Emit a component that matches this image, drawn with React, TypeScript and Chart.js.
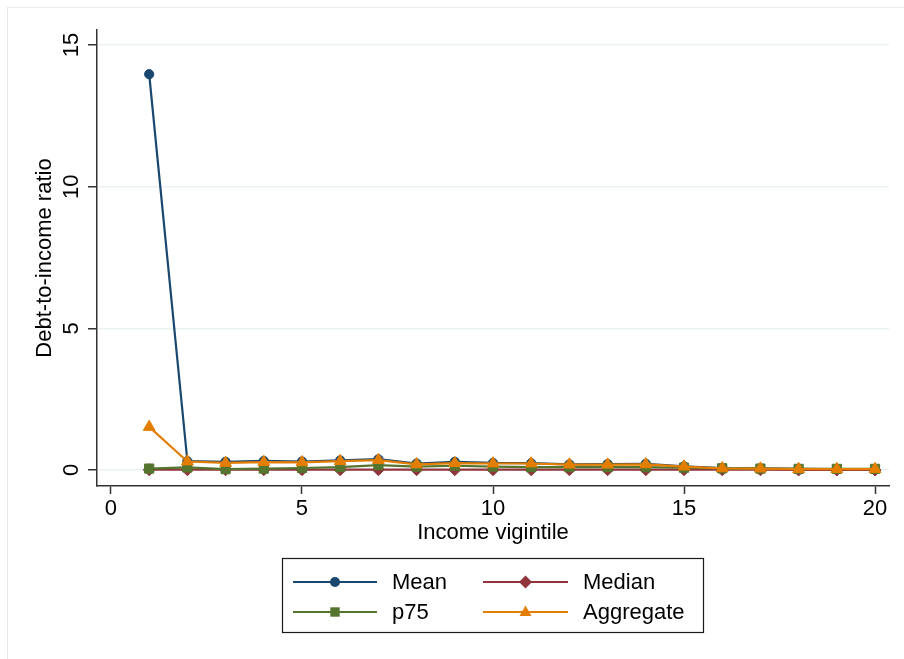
import React, { useEffect, useRef } from "react";
import { Chart, registerables } from "chart.js";

Chart.register(...registerables);

const vigintiles = [1, 2, 3, 4, 5, 6, 7, 8, 9, 10, 11, 12, 13, 14, 15, 16, 17, 18, 19, 20];
const meanRatio = [13.97, 0.31, 0.29, 0.32, 0.3, 0.34, 0.38, 0.23, 0.29, 0.25, 0.24, 0.2, 0.21, 0.22, 0.13, 0.07, 0.06, 0.04, 0.03, 0.03];
const medianRatio = [0.01, 0.01, 0.01, 0.01, 0.01, 0.01, 0.01, 0.01, 0.01, 0.01, 0.01, 0.01, 0.01, 0.01, 0.01, 0.01, 0.01, 0.0, 0.0, 0.0];
const p75Ratio = [0.05, 0.09, 0.03, 0.05, 0.07, 0.1, 0.17, 0.12, 0.15, 0.12, 0.1, 0.1, 0.1, 0.1, 0.08, 0.06, 0.05, 0.04, 0.04, 0.04];
const aggregateRatio = [1.52, 0.3, 0.25, 0.28, 0.27, 0.31, 0.35, 0.2, 0.24, 0.23, 0.23, 0.19, 0.19, 0.2, 0.12, 0.06, 0.05, 0.03, 0.03, 0.03];
const xTicks = [0, 5, 10, 15, 20];
const yTicks = [0, 5, 10, 15];

const FONT = "'Liberation Sans', Arial, Helvetica, sans-serif";
const NAVY = "#1a476f";
const MAROON = "#90353b";
const GREEN = "#55752f";
const ORANGE = "#e37e00";

const legendItems = [
  { label: "Mean", color: NAVY, shape: "circle" },
  { label: "Median", color: MAROON, shape: "diamond" },
  { label: "p75", color: GREEN, shape: "square" },
  { label: "Aggregate", color: ORANGE, shape: "triangle" },
];

function drawMarker(ctx: CanvasRenderingContext2D, shape: string, x: number, y: number, color: string) {
  ctx.save();
  ctx.fillStyle = color;
  ctx.beginPath();
  if (shape === "circle") {
    ctx.arc(x, y, 5, 0, Math.PI * 2);
  } else if (shape === "diamond") {
    ctx.moveTo(x, y - 6.5);
    ctx.lineTo(x + 6.5, y);
    ctx.lineTo(x, y + 6.5);
    ctx.lineTo(x - 6.5, y);
    ctx.closePath();
  } else if (shape === "square") {
    ctx.rect(x - 4.7, y - 4.7, 9.4, 9.4);
  } else {
    ctx.moveTo(x, y - 6.5);
    ctx.lineTo(x + 6, y + 4);
    ctx.lineTo(x - 6, y + 4);
    ctx.closePath();
  }
  ctx.fill();
  ctx.restore();
}

const decorPlugin = {
  id: "decor",
  beforeDraw(chart: any) {
    const ctx = chart.ctx as CanvasRenderingContext2D;
    ctx.save();
    ctx.fillStyle = "#ffffff";
    ctx.fillRect(0, 0, chart.width, chart.height);
    ctx.strokeStyle = "#e9eaea";
    ctx.lineWidth = 1;
    ctx.strokeRect(7.5, 7.5, chart.width + 10, chart.height + 10);
    ctx.restore();
  },
  afterDraw(chart: any) {
    const ctx = chart.ctx as CanvasRenderingContext2D;
    const yScale = chart.scales.y;
    ctx.save();
    ctx.fillStyle = "#000000";
    ctx.font = `22px ${FONT}`;
    ctx.textAlign = "center";
    ctx.textBaseline = "middle";
    for (const v of yTicks) {
      const py = yScale.getPixelForValue(v);
      ctx.save();
      ctx.translate(72, py);
      ctx.rotate(-Math.PI / 2);
      ctx.fillText(String(v), 0, 0);
      ctx.restore();
    }
    ctx.restore();

    // legend
    ctx.save();
    ctx.strokeStyle = "#1a1a1a";
    ctx.lineWidth = 1.2;
    ctx.strokeRect(282.5, 558.5, 421, 74);
    const cols = [
      { x0: 293, x1: 377, tx: 392 },
      { x0: 483, x1: 568, tx: 583 },
    ];
    const rows = [582, 612];
    legendItems.forEach((item, i) => {
      const c = cols[i % 2];
      const ry = rows[Math.floor(i / 2)];
      ctx.strokeStyle = item.color;
      ctx.lineWidth = 2;
      ctx.beginPath();
      ctx.moveTo(c.x0, ry);
      ctx.lineTo(c.x1, ry);
      ctx.stroke();
      drawMarker(ctx, item.shape, (c.x0 + c.x1) / 2, ry, item.color);
      ctx.fillStyle = "#000000";
      ctx.font = `22px ${FONT}`;
      ctx.textAlign = "left";
      ctx.textBaseline = "middle";
      ctx.fillText(item.label, c.tx, ry + 1);
    });
    ctx.restore();
  },
};

export default function App() {
  const canvasRef = useRef<HTMLCanvasElement | null>(null);

  useEffect(() => {
    if (!canvasRef.current) return;
    const mk = (label: string, data: number[], color: string, style: any, radius: number, order: number) => ({
      label,
      data: vigintiles.map((v, i) => ({ x: v, y: data[i] })),
      borderColor: color,
      backgroundColor: color,
      borderWidth: 2.2,
      pointStyle: style,
      pointRadius: radius,
      pointBorderWidth: 1,
      pointBorderColor: color,
      pointBackgroundColor: color,
      tension: 0,
      order,
    });
    const chart = new Chart(canvasRef.current, {
      type: "line",
      data: {
        datasets: [
          mk("Mean", meanRatio, NAVY, "circle", 4.6, 3),
          mk("Median", medianRatio, MAROON, "rectRot", 6, 2),
          mk("p75", p75Ratio, GREEN, "rect", 6.5, 1),
          mk("Aggregate", aggregateRatio, ORANGE, "triangle", 6.8, 0),
        ],
      },
      options: {
        responsive: false,
        animation: false,
        devicePixelRatio: 1,
        layout: { padding: { left: 0, top: 30, right: 15, bottom: 113 } },
        plugins: { legend: { display: false }, tooltip: { enabled: false } },
        scales: {
          x: {
            type: "linear",
            min: -0.366,
            max: 20.366,
            afterBuildTicks: (s: any) => {
              s.ticks = xTicks.map((v) => ({ value: v }));
            },
            afterFit: (s: any) => {
              s.height = 60;
            },
            ticks: {
              color: "#000",
              font: { family: FONT, size: 22 },
              padding: 2,
              maxRotation: 0,
            },
            grid: {
              drawOnChartArea: false,
              drawTicks: true,
              tickLength: 8,
              tickColor: "#333333",
              tickWidth: 1.5,
            },
            border: { display: true, color: "#333333", width: 1.5 },
            title: {
              display: true,
              text: "Income vigintile",
              color: "#000",
              font: { family: FONT, size: 22 },
              padding: { top: 0, bottom: 0 },
            },
          },
          y: {
            type: "linear",
            min: -0.565,
            max: 15.53,
            afterBuildTicks: (s: any) => {
              s.ticks = yTicks.map((v) => ({ value: v }));
            },
            afterFit: (s: any) => {
              s.width = 97;
            },
            ticks: { display: false },
            grid: {
              drawOnChartArea: true,
              color: "#eaf2f3",
              lineWidth: 1.5,
              drawTicks: true,
              tickLength: 9,
              tickColor: "#333333",
              tickWidth: 1.5,
            },
            border: { display: true, color: "#333333", width: 1.5 },
            title: {
              display: true,
              text: "Debt-to-income ratio",
              color: "#000",
              font: { family: FONT, size: 22 },
              padding: { top: 32, bottom: 0 },
            },
          },
        },
      },
      plugins: [decorPlugin],
    } as any);
    return () => chart.destroy();
  }, []);

  return (
    <div style={{ position: "fixed", left: 0, top: 0, width: 904, height: 659, background: "#fff" }}>
      <canvas ref={canvasRef} width={904} height={659} style={{ display: "block", width: 904, height: 659 }} />
    </div>
  );
}
